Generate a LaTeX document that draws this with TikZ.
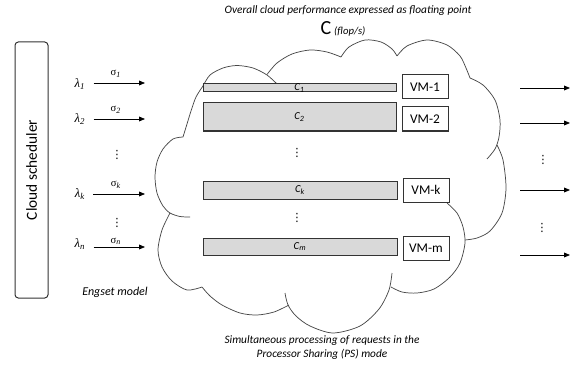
\documentclass[tikz,border=0pt]{standalone}
\usepackage{fontspec}
\setmainfont{Carlito}
\newfontfamily\grkfont{Liberation Serif}
\newfontfamily\symfont{DejaVu Sans}
\usetikzlibrary{arrows.meta}

\tikzset{
  flow/.style={-{Triangle[length=4.5pt,width=3.6pt]}, line width=0.6pt},
  cloudline/.style={draw=black!72, line width=0.55pt},
  schedbox/.style={draw=black!80, rounded corners=2.5pt, line width=0.75pt, inner sep=0pt},
  cbox/.style={draw=black!80, fill=black!15, line width=0.75pt, inner sep=0pt},
  vmbox/.style={draw=black!80, fill=white, line width=0.75pt, inner sep=0pt,
    minimum width=34.5pt, minimum height=18pt, font=\fontsize{10}{12}\selectfont},
  clabel/.style={inner sep=0pt, font=\fontsize{8}{9}\selectfont\itshape},
  lam/.style={inner sep=1pt, font=\fontsize{9.5}{11}\selectfont\grkfont\itshape},
  sig/.style={inner sep=1pt, font=\fontsize{8}{9}\selectfont\grkfont},
  dots/.style={inner sep=0pt, font=\fontsize{8.5}{9}\selectfont\symfont},
  note/.style={inner sep=0pt, font=\fontsize{8.5}{10.5}\selectfont\itshape, align=center},
}

\begin{document}
\begin{tikzpicture}[x=0.75pt,y=-0.75pt]
    \useasboundingbox (0,0) rectangle (577,367);

    % Draw the cloud
    \draw[cloudline] plot[smooth] coordinates {(203,86) (210,75) (223,68) (237,65.5) (253,68) (267,75) (277,84)};
    \draw[cloudline] plot[smooth] coordinates {(267,74.5) (277,63) (292,54) (310,50) (327,52) (341,57)};
    \draw[cloudline] plot[smooth] coordinates {(341,57) (349,47) (365,40) (381,42) (392,49) (397,56)};
    \draw[cloudline] plot[smooth] coordinates {(397,56) (407,46) (427,40) (447,45) (460,56) (466,68) (470,78)};
    \draw[cloudline] plot[smooth] coordinates {(470,78) (483,85) (495,100) (500,120) (499,137) (495,149) (487,159)};
    \draw[cloudline] plot[smooth] coordinates {(497,145) (503,160) (506,188) (502,213) (490,231) (477,238) (465,240)};
    \draw[cloudline] plot[smooth] coordinates {(447,203) (457,213) (463,227) (465,243) (460,263) (450,277) (434,289) (417,293) (402,292) (391,287)};
    \draw[cloudline] plot[smooth] coordinates {(392,273) (389,290) (379,309) (360,326) (333,333) (310,326) (296,316) (288,305) (285,293)};
    \draw[cloudline] plot[smooth] coordinates {(202,287) (210,296) (222,305) (240,313) (257,315) (274,312) (289,305)};
    \draw[cloudline] plot[smooth] coordinates {(170,213) (162,230) (158,250) (162,267) (172,281) (187,290) (202,287)};
    \draw[cloudline] plot[smooth] coordinates {(190,217) (180,216.5) (170,213) (163,206) (157,193) (155,177) (157,162) (163,149) (173,139) (183,137)};
    \draw[cloudline] plot[smooth] coordinates {(183,137) (187,124) (191,111) (196,97) (203,86)};

    % Draw the scheduler
    \node[schedbox, minimum width=24.75pt, minimum height=192pt] (sched) at (31.5,170) {};
    \node[rotate=90, font=\fontsize{11.5}{13}\selectfont] (schedtxt) at (sched.center) {Cloud scheduler};

    % Add the arrival flows
    \node[lam] (l1) at (80,84) {λ\textsubscript{1}};
    \node[lam] (l2) at (80,119) {λ\textsubscript{2}};
    \node[lam] (lk) at (80,194) {λ\textsubscript{k}};
    \node[lam] (ln) at (80,244) {λ\textsubscript{n}};
    \coordinate (a1) at (145,83);
    \coordinate (a2) at (145,119);
    \coordinate (ak) at (145,194);
    \coordinate (an) at (145,247);
    \draw[flow, shorten <=5pt] (l1.east |- a1) -- (a1) node[sig, midway, above=3pt] (s1) {σ\textsubscript{\itshape 1}};
    \draw[flow, shorten <=5pt] (l2.east |- a2) -- (a2) node[sig, midway, above=3pt] (s2) {σ\textsubscript{\itshape 2}};
    \draw[flow, shorten <=5pt] (lk.east |- ak) -- (ak) node[sig, midway, above=3pt] (sk) {σ\textsubscript{\itshape k}};
    \draw[flow, shorten <=5pt] (ln.east |- an) -- (an) node[sig, midway, above=0.5pt] (sn) {σ\textsubscript{\itshape n}};
    \node[dots] (ld1) at (117,155) {⋮};
    \node[dots] (ld2) at (117,223) {⋮};
    \node[note, font=\fontsize{9}{11}\selectfont\itshape] (engset) at (115,292) {Engset model};

    % Draw the virtual machines
    \node[cbox, minimum width=144.75pt, minimum height=6pt] (c1) at (299.5,88) {};
    \node[cbox, minimum width=144.75pt, minimum height=21pt] (c2) at (299.5,117) {};
    \node[cbox, minimum width=145.5pt, minimum height=13.5pt] (ck) at (300,190) {};
    \node[cbox, minimum width=145.5pt, minimum height=12.75pt] (cm) at (300,246.5) {};
    \node[clabel] (c1txt) at (c1.center) {C\textsubscript{1}};
    \node[clabel] (c2txt) at (c2.center) {C\textsubscript{2}};
    \node[clabel] (cktxt) at (ck.center) {C\textsubscript{k}};
    \node[clabel] (cmtxt) at (cm.center) {C\textsubscript{m}};
    \node[dots] (cd1) at (297,153) {⋮};
    \node[dots] (cd2) at (297,218) {⋮};
    \node[vmbox] (vm1) at (425,87) {VM-1};
    \node[vmbox] (vm2) at (425,119) {VM-2};
    \node[vmbox] (vmk) at (426,190) {VM-k};
    \node[vmbox] (vmm) at (426,248.5) {VM-m};

    % Draw the departures
    \coordinate (o1) at (520,88);
    \coordinate (o2) at (520,123);
    \coordinate (ok) at (520,190);
    \coordinate (om) at (520,255);
    \coordinate (e1) at (570,88);
    \coordinate (e2) at (570,123);
    \coordinate (ek) at (570,190);
    \coordinate (em) at (570,255);
    \draw[flow] (o1) -- (e1);
    \draw[flow] (o2) -- (e2);
    \draw[flow] (ok) -- (ek);
    \draw[flow] (om) -- (em);
    \node[dots] (rd1) at (543,160) {⋮};
    \node[dots] (rd2) at (542,228) {⋮};

    % Add the captions
    \node[note, anchor=base] (perf) at (348,14) {Overall cloud performance expressed as floating point};
    \node[inner sep=0pt, anchor=base] (cap) at (343,35) {{\fontsize{15}{15}\selectfont C} {\fontsize{8}{9}\selectfont\itshape (flop/s)}};
    \node[note, anchor=north] (ps) at (322,335) {Simultaneous processing of requests in the\\Processor Sharing (PS) mode};

\end{tikzpicture}
\end{document}
